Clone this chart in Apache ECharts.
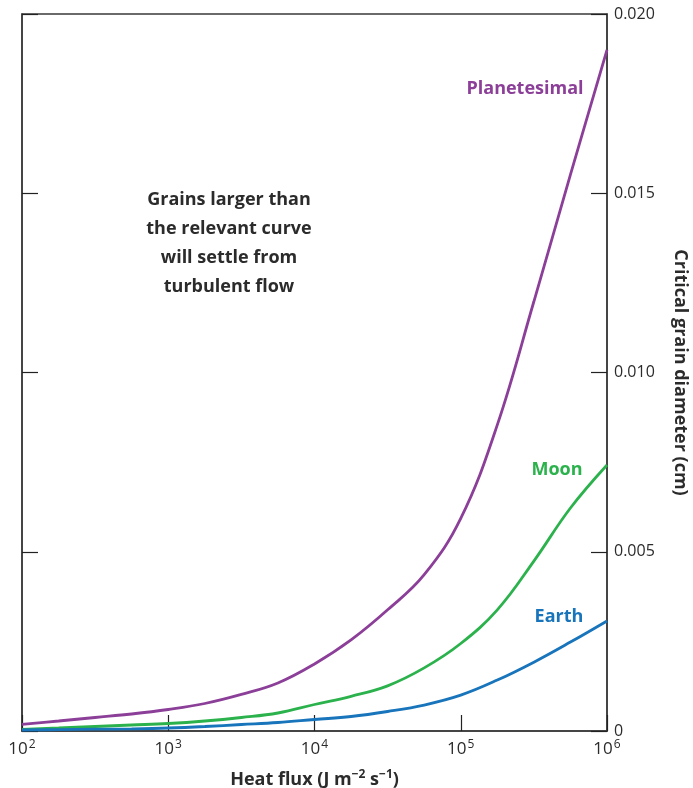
<!DOCTYPE html>
<html>
<head>
<meta charset="utf-8">
<title>Critical grain diameter vs heat flux</title>
<script src="https://cdn.jsdelivr.net/npm/echarts@6/dist/echarts.min.js"></script>
<style>
  html, body { margin: 0; padding: 0; background: #fff; }
  #chart { width: 693px; height: 788px; }
</style>
</head>
<body>
<div id="chart"></div>
<script>
// Heat flux (J m^-2 s^-1) sample points, quarter-decade spacing
const heatFlux = [100, 178, 316, 562, 1000, 1778, 3162, 5623, 1e4, 17783, 31623, 56234, 1e5, 177828, 316228, 562341, 1e6];

// Critical grain diameter (cm) for each body
const planetesimal = [0.000187, 0.000279, 0.000377, 0.000474, 0.0006, 0.000767, 0.00102, 0.00134, 0.00187, 0.00254, 0.00338, 0.00436, 0.00593, 0.00854, 0.01198, 0.01552, 0.019];
const moon = [0.000047, 0.000084, 0.000126, 0.000167, 0.000209, 0.000279, 0.000377, 0.000502, 0.000739, 0.000968, 0.00126, 0.00176, 0.00244, 0.00338, 0.00474, 0.00622, 0.00742];
const earth = [0.000028, 0.000039, 0.00005, 0.000061, 0.000084, 0.000126, 0.000181, 0.000237, 0.000321, 0.000404, 0.000544, 0.000725, 0.001, 0.00142, 0.00192, 0.00248, 0.00307];

// Axis tick labels
const yTickLabels = ['0', '0.005', '0.010', '0.015', '0.020'];

const COLORS = { planetesimal: '#8c3f98', moon: '#2bb24c', earth: '#1874bb' };
const FONT = '"Open Sans", "Noto Sans", sans-serif';
const AXIS_COLOR = '#3a3a3a';
const TEXT_COLOR = '#2b2b2b';

function pairs(ys) {
  return heatFlux.map((x, i) => [x, ys[i]]);
}

const chart = echarts.init(document.getElementById('chart'), null, { renderer: 'canvas' });

const sharedTick = { show: true, inside: true, length: 16, lineStyle: { color: '#222', width: 1.2 } };
const sharedLine = { show: true, lineStyle: { color: AXIS_COLOR, width: 1.5 } };

const option = {
  backgroundColor: '#ffffff',
  animation: false,
  grid: {
    left: 22, right: 86, top: 14, bottom: 57,
    containLabel: false,
    outerBoundsMode: 'none',
    show: true, borderColor: AXIS_COLOR, borderWidth: 1.5, backgroundColor: 'transparent'
  },
  xAxis: {
    type: 'log',
    logBase: 10,
    min: 100,
    max: 1e6,
    name: 'Heat flux (J m{sup|−2} s{sup|−1})',
    nameLocation: 'middle',
    nameGap: 38,
    nameTextStyle: {
      fontFamily: FONT, fontWeight: 'bold', fontSize: 18, color: TEXT_COLOR,
      rich: {
        sup: { fontFamily: FONT, fontWeight: 'bold', fontSize: 12, color: TEXT_COLOR, verticalAlign: 'top', padding: [0, 0, 9, 0] }
      }
    },
    axisLine: sharedLine,
    axisTick: sharedTick,
    minorTick: { show: false },
    splitLine: { show: false },
    axisLabel: {
      margin: 8,
      fontFamily: FONT, fontSize: 17, color: TEXT_COLOR,
      formatter: function (v) {
        const e = Math.round(Math.log10(v));
        return '10{sup|' + e + '}';
      },
      rich: {
        sup: { fontFamily: FONT, fontSize: 12, color: TEXT_COLOR, verticalAlign: 'top', padding: [0, 0, 8, 1] }
      }
    }
  },
  yAxis: [
    {
      type: 'value',
      position: 'right',
      min: 0,
      max: 0.02,
      interval: 0.005,
      name: 'Critical grain diameter (cm)',
      nameLocation: 'middle',
      nameRotate: -90,
      nameGap: 64,
      nameTextStyle: { fontFamily: FONT, fontWeight: 'bold', fontSize: 18, color: TEXT_COLOR },
      axisLine: sharedLine,
      axisTick: sharedTick,
      splitLine: { show: false },
      axisLabel: {
        margin: 7,
        fontFamily: FONT, fontSize: 16, color: TEXT_COLOR,
        formatter: function (v) {
          return yTickLabels[Math.round(v / 0.005)];
        }
      }
    },
    {
      type: 'value',
      position: 'left',
      min: 0,
      max: 0.02,
      interval: 0.005,
      axisLine: sharedLine,
      axisTick: sharedTick,
      splitLine: { show: false },
      axisLabel: { show: false }
    }
  ],
  series: [
    {
      name: 'Planetesimal', type: 'line', yAxisIndex: 0,
      data: pairs(planetesimal), smooth: 0.4, showSymbol: false,
      lineStyle: { color: COLORS.planetesimal, width: 2.8 }, z: 3
    },
    {
      name: 'Moon', type: 'line', yAxisIndex: 0,
      data: pairs(moon), smooth: 0.4, showSymbol: false,
      lineStyle: { color: COLORS.moon, width: 2.8 }, z: 2
    },
    {
      name: 'Earth', type: 'line', yAxisIndex: 0,
      data: pairs(earth), smooth: 0.4, showSymbol: false,
      lineStyle: { color: COLORS.earth, width: 2.8 }, z: 4
    }
  ],
  graphic: [
    {
      type: 'text', x: 525, y: 89,
      style: { text: 'Planetesimal', fill: COLORS.planetesimal, font: 'bold 18px ' + FONT, textAlign: 'center', textVerticalAlign: 'middle' }
    },
    {
      type: 'text', x: 557, y: 470,
      style: { text: 'Moon', fill: COLORS.moon, font: 'bold 18px ' + FONT, textAlign: 'center', textVerticalAlign: 'middle' }
    },
    {
      type: 'text', x: 559, y: 617,
      style: { text: 'Earth', fill: COLORS.earth, font: 'bold 18px ' + FONT, textAlign: 'center', textVerticalAlign: 'middle' }
    },
    {
      type: 'text', x: 229, y: 243,
      style: {
        text: 'Grains larger than\nthe relevant curve\nwill settle from\nturbulent flow',
        fill: TEXT_COLOR, font: 'bold 18px ' + FONT, lineHeight: 29,
        textAlign: 'center', textVerticalAlign: 'middle'
      }
    }
  ]
};

chart.setOption(option);
</script>
</body>
</html>
